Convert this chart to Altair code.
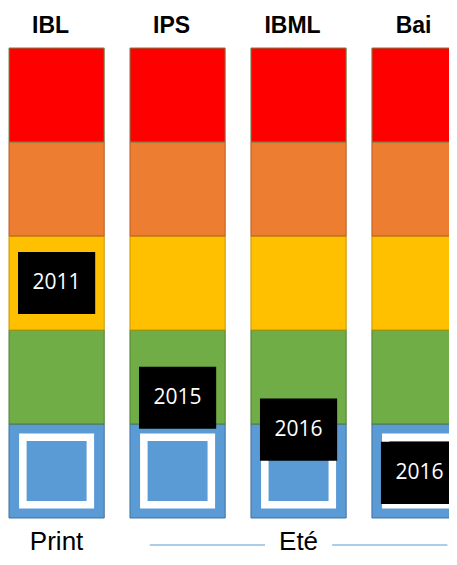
import altair as alt
import pandas as pd

# ---- data ----
columns = ["IBL", "IPS", "IBML", "Bai"]
levels = ["blue", "green", "yellow", "orange", "red"]          # bottom -> top
level_colors = ["#5B9BD5", "#70AD47", "#FFC000", "#ED7D31", "#FF0000"]
level_strokes = ["#41719C", "#507E32", "#C79600", "#B45F26", "#6E8B50"]
years = ["2011", "2015", "2016", "2016"]
year_levels = [2.5, 1.28, 0.94, 0.48]
groups = ["Print", "Eté"]
group_center_col = [0, 2]
group_half_span = [0.0, 1.23]

CELL_W = 0.787
half = CELL_W / 2

cells = pd.DataFrame(
    [{"col": i, "name": c, "row": r, "level": lv}
     for i, c in enumerate(columns) for r, lv in enumerate(levels)]
)
cols_df = pd.DataFrame({"col": list(range(len(columns))), "name": columns})
years_df = pd.DataFrame({"col": list(range(len(columns))), "year": years, "lvl": year_levels})
groups_df = pd.DataFrame({"g": groups, "center": group_center_col, "span": group_half_span})

gap = 0.2776
segs = []
for g, c, s in zip(groups, group_center_col, group_half_span):
    if s > 0:
        segs.append({"a": c + half - s, "b": c + half - gap})
        segs.append({"a": c + half + gap, "b": c + half + s})
segs_df = pd.DataFrame(segs)

W, H = 441, 549
xs = alt.Scale(domain=[-0.0083, (W - 1) / 120.7 - 0.0083], nice=False, zero=False)
ys = alt.Scale(domain=[(510 - H) / 94, 5.4255], nice=False, zero=False)

cell_layer = alt.Chart(cells).transform_calculate(
    x1="datum.col", x2=f"datum.col + {CELL_W}", y1="datum.row", y2="datum.row + 1"
).mark_rect(clip=True, strokeWidth=1).encode(
    x=alt.X("x1:Q", scale=xs, axis=None),
    x2="x2:Q",
    y=alt.Y("y1:Q", scale=ys, axis=None),
    y2="y2:Q",
    fill=alt.Fill("level:N", scale=alt.Scale(domain=levels, range=level_colors), legend=None),
    stroke=alt.Stroke("level:N", scale=alt.Scale(domain=levels, range=level_strokes), legend=None),
)

square_layer = alt.Chart(cols_df).transform_calculate(
    xc=f"datum.col + {half}", yc="0.5"
).mark_square(filled=False, color="white", strokeWidth=7.5, size=4556, opacity=1, clip=True).encode(
    x=alt.X("xc:Q", scale=xs, axis=None),
    y=alt.Y("yc:Q", scale=ys, axis=None),
)

box_layer = alt.Chart(years_df).transform_calculate(
    x1=f"datum.col + {half} - 0.319", x2=f"datum.col + {half} + 0.319",
    y1="datum.lvl - 0.33", y2="datum.lvl + 0.33"
).mark_rect(color="black", clip=True).encode(
    x=alt.X("x1:Q", scale=xs, axis=None), x2="x2:Q",
    y=alt.Y("y1:Q", scale=ys, axis=None), y2="y2:Q",
)

year_text = alt.Chart(years_df).transform_calculate(
    xc=f"datum.col + {half}"
).mark_text(color="white", font="Open Sans", fontSize=21, baseline="middle", clip=True).encode(
    x=alt.X("xc:Q", scale=xs, axis=None),
    y=alt.Y("lvl:Q", scale=ys, axis=None),
    text="year:N",
)

header_text = alt.Chart(cols_df).transform_calculate(
    xc=f"datum.col + {half}"
).mark_text(font="Liberation Sans", fontWeight="bold", fontSize=23, dx=-6,
            baseline="alphabetic", color="black").encode(
    x=alt.X("xc:Q", scale=xs, axis=None),
    y=alt.value(24.5),
    text="name:N",
)

group_text = alt.Chart(groups_df).transform_calculate(
    xc=f"datum.center + {half}"
).mark_text(font="Liberation Sans", fontSize=26, baseline="alphabetic", color="black").encode(
    x=alt.X("xc:Q", scale=xs, axis=None),
    y=alt.value(542),
    text="g:N",
)

rule_layer = alt.Chart(segs_df).mark_rule(color="#5B9BD5", strokeWidth=1.2).encode(
    x=alt.X("a:Q", scale=xs, axis=None),
    x2="b:Q",
    y=alt.value(537),
)

chart = alt.layer(
    cell_layer, square_layer, box_layer, year_text, header_text, group_text, rule_layer
).properties(
    width=W, height=H, padding=0, autosize="none"
).configure_view(stroke=None)

chart.save("out.html", embed_options={"renderer": "svg", "actions": False})
